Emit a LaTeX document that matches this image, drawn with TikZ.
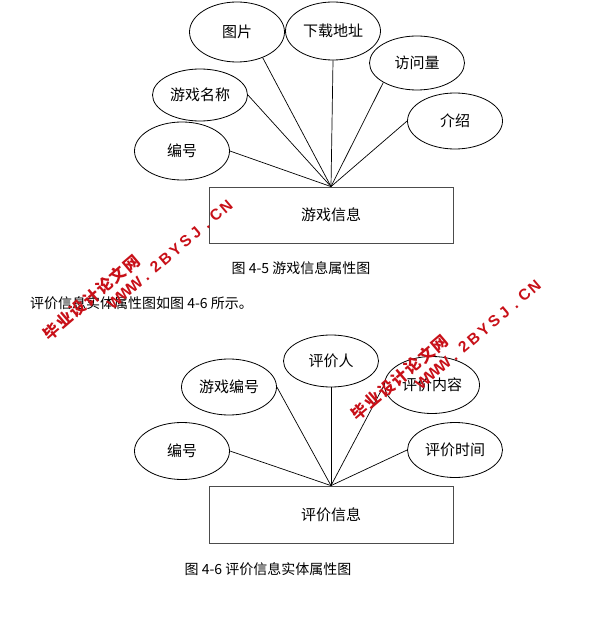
\documentclass[tikz,border=0pt]{standalone}
\usepackage{fontspec}
\setmainfont{Noto Sans CJK SC}
\newfontfamily\wmfont{Liberation Sans}
\usepackage{tikz}
\usetikzlibrary{shapes.geometric}
\definecolor{wmred}{RGB}{200,16,24}
\tikzset{attr/.style={draw,ellipse,line width=0.8pt,minimum width=95pt,minimum height=56pt,inner sep=0,font=\fontsize{15}{15}\selectfont}}
\tikzset{entity/.style={draw=black!70,rectangle,line width=0.8pt,minimum width=244pt,minimum height=56pt,inner sep=0,font=\fontsize{15}{15}\selectfont}}
\tikzset{link/.style={line width=0.7pt}}
\tikzset{caption/.style={inner sep=0,font=\fontsize{14}{14}\selectfont}}
\tikzset{wm cn/.style={rotate=40.5,text=wmred,inner sep=0,text height=13.5pt,text depth=2pt,font=\bfseries\fontsize{16}{16}\selectfont}}
\tikzset{wm en/.style={rotate=40.5,text=wmred,inner sep=0,text height=11pt,text depth=0pt,font=\wmfont\bfseries\fontsize{15.5}{15.5}\selectfont}}

%水印
\newcommand{\shuiyin}[1]{%
  \begin{scope}[shift={#1},rotate=40.5]
    \foreach \c [count=\i from 0] in {毕,业,设,计,论,文,网}
      \node[wm cn] at (17.5*\i,0) {\c};
    \foreach \c [count=\i from 0] in {W,W,W,.,2,B,Y,S,J,.,C,N}
      \node[wm en] at (67.6+13.3*\i,18) {\c};
  \end{scope}}

\begin{document}
\begin{tikzpicture}[x=1pt,y=-1pt]
  \useasboundingbox (0,0) rectangle (595,620);

  %游戏信息
  \node[entity] (game) at (331,215) {游戏信息};
  \node[attr, minimum height=58pt] (gid) at (182,151) {编号};
  \node[attr, minimum height=52pt] (gname) at (200,95) {游戏名称};
  \node[attr, minimum height=60pt] (pic) at (237,32) {图片};
  \node[attr, minimum height=58pt] (url) at (333,31) {下载地址};
  \node[attr, minimum height=54pt] (visit) at (417,63) {访问量};
  \node[attr] (intro) at (455,121) {介绍};

  %连线
  \draw[link] (gid.east) -- (game.north);
  \draw[link] (gname.east) -- (game.north);
  \draw[link] (pic.-45) -- (game.north);
  \draw[link] (url.south) -- (game.north);
  \draw[link] (visit.210) -- (game.north);
  \draw[link] (intro.west) -- (game.north);

  %标题
  \node[caption] (cap1) at (301,268) {图 4-5 游戏信息属性图};
  \node[caption, anchor=west] (para) at (30,303) {评价信息实体属性图如图 4-6 所示。};

  %评价信息
  \node[entity, minimum height=57pt] (review) at (331,514.5) {评价信息};
  \node[attr, minimum height=57pt] (rid) at (182,451) {编号};
  \node[attr] (rgid) at (229,387) {游戏编号};
  \node[attr, minimum height=52pt] (person) at (331,361) {评价人};
  \node[attr, minimum height=57pt] (content) at (432,385) {评价内容};
  \node[attr, minimum height=55pt] (rtime) at (455,450) {评价时间};

  %连线
  \draw[link] (rid.east) -- (review.north);
  \draw[link] (rgid.east) -- (review.north);
  \draw[link] (person.south) -- (review.north);
  \draw[link] (content.west) -- (review.north);
  \draw[link] (rtime.west) -- (review.north);

  %标题
  \node[caption] (cap2) at (268,569) {图 4-6 评价信息实体属性图};

  %水印
  \shuiyin{(51.7,331.7)}
  \shuiyin{(360,411.7)}
\end{tikzpicture}
\end{document}
